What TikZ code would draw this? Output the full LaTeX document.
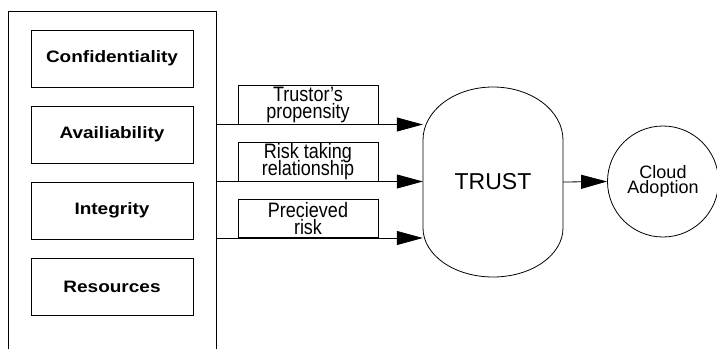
\documentclass[tikz,border=0pt]{standalone}
\usepackage{fontspec}
\usepackage{graphicx}
\setmainfont{Liberation Sans}
\usetikzlibrary{arrows.meta,calc}
\newcommand\twoline[3]{\scalebox{1}[#1]{\vbox{\lineskiplimit=-\maxdimen\halign{\hfil##\hfil\cr#2\cr#3\cr}}}}
\newcommand\squash[1]{\scalebox{1}[0.87]{#1}}
\begin{document}
\begin{tikzpicture}[x=1pt,y=-1pt,
  catbox/.style={draw,line width=1pt,minimum width=162pt,minimum height=57pt,inner sep=0pt,font=\fontsize{19}{22}\selectfont\bfseries},
  lblbox/.style={draw,line width=0.8pt,minimum width=140pt,minimum height=38.5pt,inner sep=0pt,anchor=south,font=\fontsize{18}{15}\selectfont},
  flow/.style={line width=0.8pt,-{Triangle[length=26pt,width=14pt]}},
  shapeline/.style={line width=0.8pt}
]
\useasboundingbox (0,0) rectangle (717,349);
% outer container (open at the bottom of the picture)
\draw[line width=1pt] (8,349) -- (8,11) -- (216,11) -- (216,349);
\coordinate (oe) at (216,11);
% categories
\node[catbox] (c1) at (112,58.5) {\squash{Confidentiality}};
\node[catbox] (c2) at (112,134.5) {\squash{Availiability}};
\node[catbox] (c3) at (112,210.5) {\squash{Integrity}};
\node[catbox] (c4) at (112,286.5) {\squash{Resources}};
% TRUST node
\node[minimum width=140pt,minimum height=190pt,inner sep=0pt,font=\fontsize{23}{26}\selectfont] (trust) at (493,182) {TRUST};
\draw[shapeline] (423,140) arc[start angle=180,end angle=0,x radius=70pt,y radius=53pt]
  -- (563,228) arc[start angle=0,end angle=-180,x radius=70pt,y radius=49pt] -- cycle;
% label boxes
\node[lblbox] (b1) at (308,124.5) {\twoline{1.16}{Trustor’s}{propensity}};
\node[lblbox] (b2) at (308,181.5) {\twoline{1.16}{Risk taking}{relationship}};
\node[lblbox] (b3) at (308,238) {\twoline{1.16}{Precieved}{risk}};
% connectors
\draw[flow] (oe |- b1.south) -- (trust.west |- b1.south);
\draw[flow] (oe |- b2.south) -- (trust.west |- b2.south);
\draw[flow] (oe |- b3.south) -- (trust.west |- b3.south);
% cloud adoption
\node[draw,circle,line width=0.8pt,minimum size=111pt,inner sep=0pt,align=center,font=\fontsize{18}{15}\selectfont] (cloud) at (663,181.5) {Cloud\\Adoption};
\draw[flow] (trust.east) -- (cloud.west);
\end{tikzpicture}
\end{document}
